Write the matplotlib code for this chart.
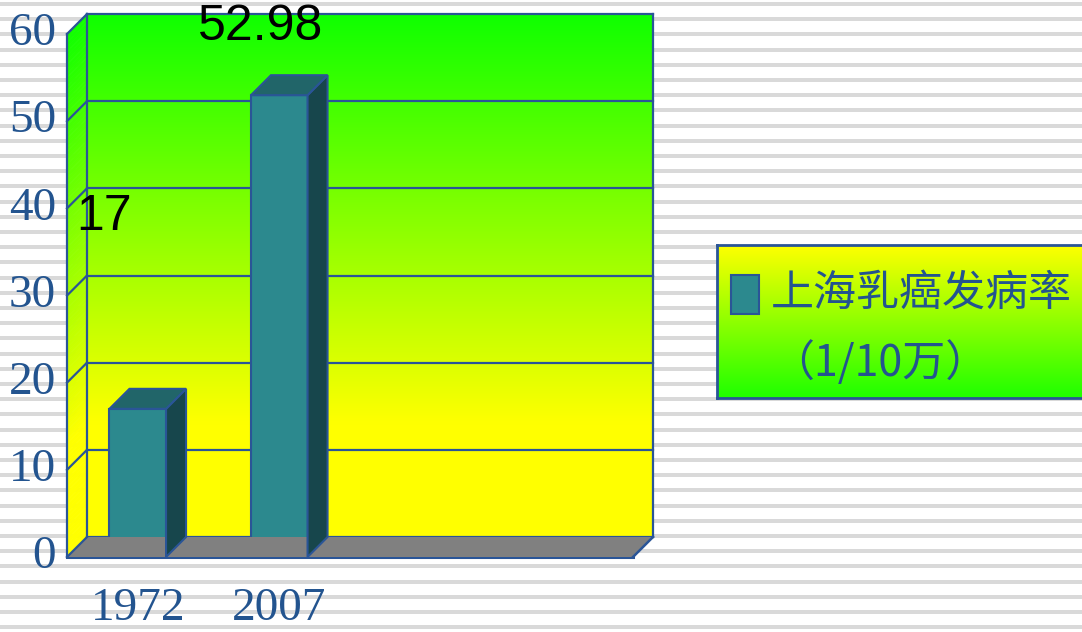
import numpy as np
import matplotlib
matplotlib.use("Agg")
import matplotlib.pyplot as plt
from matplotlib.patches import Polygon, Rectangle
from matplotlib.transforms import ScaledTranslation

# 数据
categories = ["1972", "2007", "", ""]
values = [17, 52.98]
value_labels = ["17", "52.98"]
legend_label = "上海乳癌发病率\n（1/10万）"
yticks = [0, 10, 20, 30, 40, 50, 60]

# 颜色
blue = "#2a5597"
tick_color = "#23548f"
bar_front = "#2c898e"
bar_side = "#17464c"
bar_top = "#216569"
floor_color = "#808080"

W, H, DPI = 1082, 632, 100
fig = plt.figure(figsize=(W / DPI, H / DPI), dpi=DPI)
fig.patch.set_facecolor("white")

# 背景横条纹
bg = fig.add_axes([0, 0, 1, 1], zorder=-10)
bg.set_xlim(0, 1)
bg.set_ylim(H, 0)
bg.axis("off")
for yy in np.arange(2, H, 15.2):
    bg.axhspan(yy, yy + 4, color="#d9d9d9", lw=0)

# 主坐标区(前平面)
ax = fig.add_axes([67 / W, (H - 557) / H, 566 / W, (557 - 34) / H])
ax.set_xlim(-0.5, 3.5)
ax.set_ylim(0, 60)
ax.patch.set_visible(False)
for s in ax.spines.values():
    s.set_visible(False)

depth = 20  # 像素
off = ScaledTranslation(depth / DPI, depth / DPI, fig.dpi_scale_trans)
back = ax.transData + off


def wall_color(v):
    r = np.clip(0.06 + 0.94 * (60 - v) / 47, 0, 1)
    return (r, 1.0, 0.0)


# 渐变(绿 -> 黄), 后墙
grad_vals = np.linspace(60, 0, 300)
grad = np.array([wall_color(v) for v in grad_vals])[:, None, :]
ax.imshow(grad, extent=(-0.5, 3.5, 0, 60), transform=back, aspect="auto",
          zorder=0, clip_on=False, interpolation="bilinear")


def disp(x, y, shifted=False):
    p = ax.transData.transform((x, y))
    if shifted:
        p = p + depth
    return p


# 左侧墙(分条渐变)
edges = np.linspace(0, 60, 121)
for v0, v1 in zip(edges[:-1], edges[1:]):
    strip = [disp(-0.5, v0), disp(-0.5, v0, True), disp(-0.5, v1, True), disp(-0.5, v1)]
    fig.add_artist(Polygon(strip, closed=True, transform=None,
                           fc=wall_color((v0 + v1) / 2), ec=wall_color((v0 + v1) / 2),
                           lw=0.5, zorder=0))

# 地板
floor = Polygon([disp(-0.5, 0), disp(3.5, 0), disp(3.5, 0, True), disp(-0.5, 0, True)],
                closed=True, transform=None, fc=floor_color, ec="none", zorder=1)
fig.add_artist(floor)

# 网格线与边框
for v in yticks:
    ax.plot([-0.5, 3.5], [v, v], transform=back, color=blue, lw=1.6, zorder=2,
            clip_on=False)
    a, b = disp(-0.5, v), disp(-0.5, v, True)
    fig.add_artist(plt.Line2D([a[0], b[0]], [a[1], b[1]], transform=None,
                              color=blue, lw=1.6, zorder=2))
ax.plot([-0.5, -0.5], [0, 60], transform=back, color=blue, lw=1.6, zorder=2, clip_on=False)
ax.plot([3.5, 3.5], [0, 60], transform=back, color=blue, lw=1.6, zorder=2, clip_on=False)
ax.plot([-0.5, -0.5], [0, 60], color=blue, lw=1.6, zorder=2, clip_on=False)
ax.plot([-0.5, 3.5], [0, 0], color=blue, lw=2.2, zorder=2, clip_on=False)
a, b = disp(3.5, 0), disp(3.5, 0, True)
fig.add_artist(plt.Line2D([a[0], b[0]], [a[1], b[1]], transform=None, color=blue, lw=1.8, zorder=2))
for xb in [0.5, 1.5, 2.5, 3.5]:
    ax.plot([xb, xb], [0, 0.9], color=blue, lw=1.5, zorder=2, clip_on=False)

# 柱子
bw = 0.4
xs = np.arange(len(values))
ax.bar(xs, values, width=bw, color=bar_front, edgecolor=blue, lw=1.5, zorder=5)
for x, v in zip(xs, values):
    x0, x1 = x - bw / 2, x + bw / 2
    side_poly = [disp(x1, 0), disp(x1, 0, True), disp(x1, v, True), disp(x1, v)]
    top_poly = [disp(x0, v), disp(x1, v), disp(x1, v, True), disp(x0, v, True)]
    fig.add_artist(Polygon(side_poly, closed=True, transform=None, fc=bar_side,
                           ec=blue, lw=1.5, zorder=4))
    fig.add_artist(Polygon(top_poly, closed=True, transform=None, fc=bar_top,
                           ec=blue, lw=1.5, zorder=4))

# 数据标签
label_offsets = [(-34, 192), (-19, 68)]
for x, v, t, (dx, dy) in zip(xs, values, value_labels, label_offsets):
    ax.annotate(t, (x, v), xytext=(dx, dy), textcoords="offset pixels",
                ha="center", va="center", fontsize=36, color="black",
                family="Liberation Sans", zorder=10, annotation_clip=False)

# 刻度标签
ax.set_yticks(yticks)
ax.set_yticklabels([str(v) for v in yticks], family="Liberation Serif",
                   fontsize=34, color=tick_color)
ax.set_xticks(range(len(categories)))
ax.set_xticklabels(categories, family="Liberation Serif", fontsize=34, color=tick_color)
ax.tick_params(axis="y", length=0, pad=8)
ax.tick_params(axis="x", length=0, pad=22)
for lab in ax.get_yticklabels():
    lab.set_va("center")

# 图例
lg = fig.add_axes([717 / W, (H - 398) / H, (W - 717 + 10) / W, 153 / H])
lg.set_xlim(0, 1)
lg.set_ylim(0, 1)
lg_grad = np.stack([np.linspace(1.0, 0.12, 200), np.ones(200), np.zeros(200)], axis=1)[:, None, :]
lg.imshow(lg_grad, extent=(0, 1, 0, 1), aspect="auto", interpolation="bilinear")
lg.set_xticks([])
lg.set_yticks([])
for s in lg.spines.values():
    s.set_color(blue)
    s.set_linewidth(2)
lg.add_patch(Rectangle((14 / 375, (398 - 314) / 153), 28 / 375, 39 / 153,
                       transform=lg.transAxes, fc=bar_front, ec=blue, lw=1.5))
line1, line2 = legend_label.split("\n")
lg.text(54 / 375, (398 - 294) / 153, line1,
        transform=lg.transAxes, ha="left", va="center", fontsize=31,
        color=tick_color, family=["Noto Sans CJK SC", "DejaVu Sans"])
lg.text(54 / 375, (398 - 364) / 153, line2,
        transform=lg.transAxes, ha="left", va="center", fontsize=31,
        color=tick_color, family=["Noto Sans CJK SC", "DejaVu Sans"])

fig.savefig("out.png", dpi=DPI)
